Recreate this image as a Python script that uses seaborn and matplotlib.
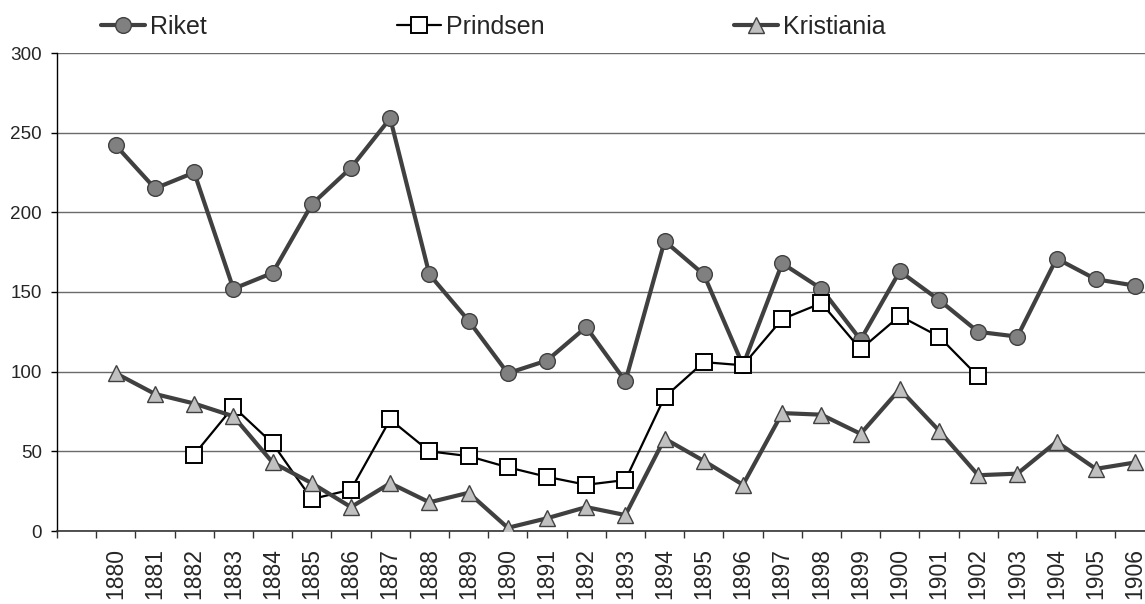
import numpy as np
import pandas as pd
import matplotlib
matplotlib.use("Agg")
import matplotlib.pyplot as plt
from matplotlib.ticker import FixedLocator, NullFormatter
import seaborn as sns

# ---- data ----
years = list(range(1880, 1907))
riket = [242, 215, 225, 152, 162, 205, 228, 259, 161,
         132, 99, 107, 128, 94, 182, 161, 104, 168, 152,
         120, 163, 145, 125, 122, 171, 158, 154]
prindsen = [np.nan, np.nan, 48, 78, 55, 20, 26, 70, 50,
            47, 40, 34, 29, 32, 84, 106, 104, 133, 143,
            114, 135, 122, 97, np.nan, np.nan, np.nan, np.nan]
kristiania = [99, 86, 80, 72, 43, 30, 15, 30, 18,
              24, 2, 8, 15, 10, 58, 44, 29, 74, 73,
              61, 89, 63, 35, 36, 56, 39, 43]
series_names = ["Riket", "Prindsen", "Kristiania"]
y_ticks = [0, 50, 100, 150, 200, 250, 300]

# category positions (an empty first slot precedes 1880, as in the original)
pos = np.arange(len(years)) + 1
df = pd.DataFrame({"pos": pos, "year": years, "Riket": riket,
                   "Prindsen": prindsen, "Kristiania": kristiania})

sns.set_style("white")
plt.rcParams["font.family"] = ["Liberation Sans", "DejaVu Sans"]

W, H = 1145, 604
fig = plt.figure(figsize=(W / 100, H / 100), dpi=100)
left_px, right_px, top_px, bottom_px = 57, 57 + 28 * 39.2, 53, 531
ax = fig.add_axes([left_px / W, 1 - bottom_px / H,
                   (right_px - left_px) / W, (bottom_px - top_px) / H])

styles = {
    "Riket": dict(color="#404040", linewidth=3.0, marker="o", markersize=11.3,
                  markerfacecolor="#808080", markeredgecolor="#404040",
                  markeredgewidth=1.0),
    "Prindsen": dict(color="black", linewidth=1.6, marker="s", markersize=11,
                     markerfacecolor="white", markeredgecolor="black",
                     markeredgewidth=1.4),
    "Kristiania": dict(color="#404040", linewidth=3.0, marker="^", markersize=11.3,
                       markerfacecolor="#c0c0c0", markeredgecolor="#404040",
                       markeredgewidth=1.0),
}
for i, name in enumerate(series_names):
    sub = df[["pos", name]].dropna()
    sns.lineplot(data=sub, x="pos", y=name, ax=ax, estimator=None, sort=True,
                 label=name, zorder=3 + i, legend=False, **styles[name])

ax.set_xlim(-0.5, len(years) + 0.5)
ax.set_ylim(0, 300)
ax.set_xlabel("")
ax.set_ylabel("")

# x axis: labels at category centres, tick marks at boundaries
ax.set_xticks(pos)
ax.set_xticklabels([str(y) for y in years], rotation=90, fontsize=16.5)
ax.xaxis.set_minor_locator(FixedLocator(np.arange(-0.5, len(years) + 1, 1.0)))
ax.xaxis.set_minor_formatter(NullFormatter())
ax.tick_params(axis="x", which="major", length=0, pad=12.5)
ax.tick_params(axis="x", which="minor", length=5, width=1, color="#333333",
               direction="out", bottom=True)

ax.set_yticks(y_ticks)
ax.set_yticklabels([str(v) for v in y_ticks], fontsize=13.6)
ax.tick_params(axis="y", which="major", length=4, width=1, color="black",
               direction="out", left=True, pad=7)

ax.yaxis.grid(True, color="#6a6a6a", linewidth=1.0)
ax.xaxis.grid(False)
ax.set_axisbelow(True)
for s in ["top", "right"]:
    ax.spines[s].set_visible(False)
ax.spines["left"].set_color("black")
ax.spines["left"].set_linewidth(1.0)
ax.spines["bottom"].set_color("#333333")
ax.spines["bottom"].set_linewidth(1.2)

handles, labels = ax.get_legend_handles_labels()
fig.legend(handles, labels, loc="center left",
           bbox_to_anchor=(101 / W, 1 - 26.7 / H), bbox_transform=fig.transFigure,
           ncol=3, frameon=False, fontsize=18, borderpad=0, borderaxespad=0,
           handlelength=1.76, handletextpad=0.2, columnspacing=7.6, numpoints=1)

fig.savefig("out.png", dpi=100)
